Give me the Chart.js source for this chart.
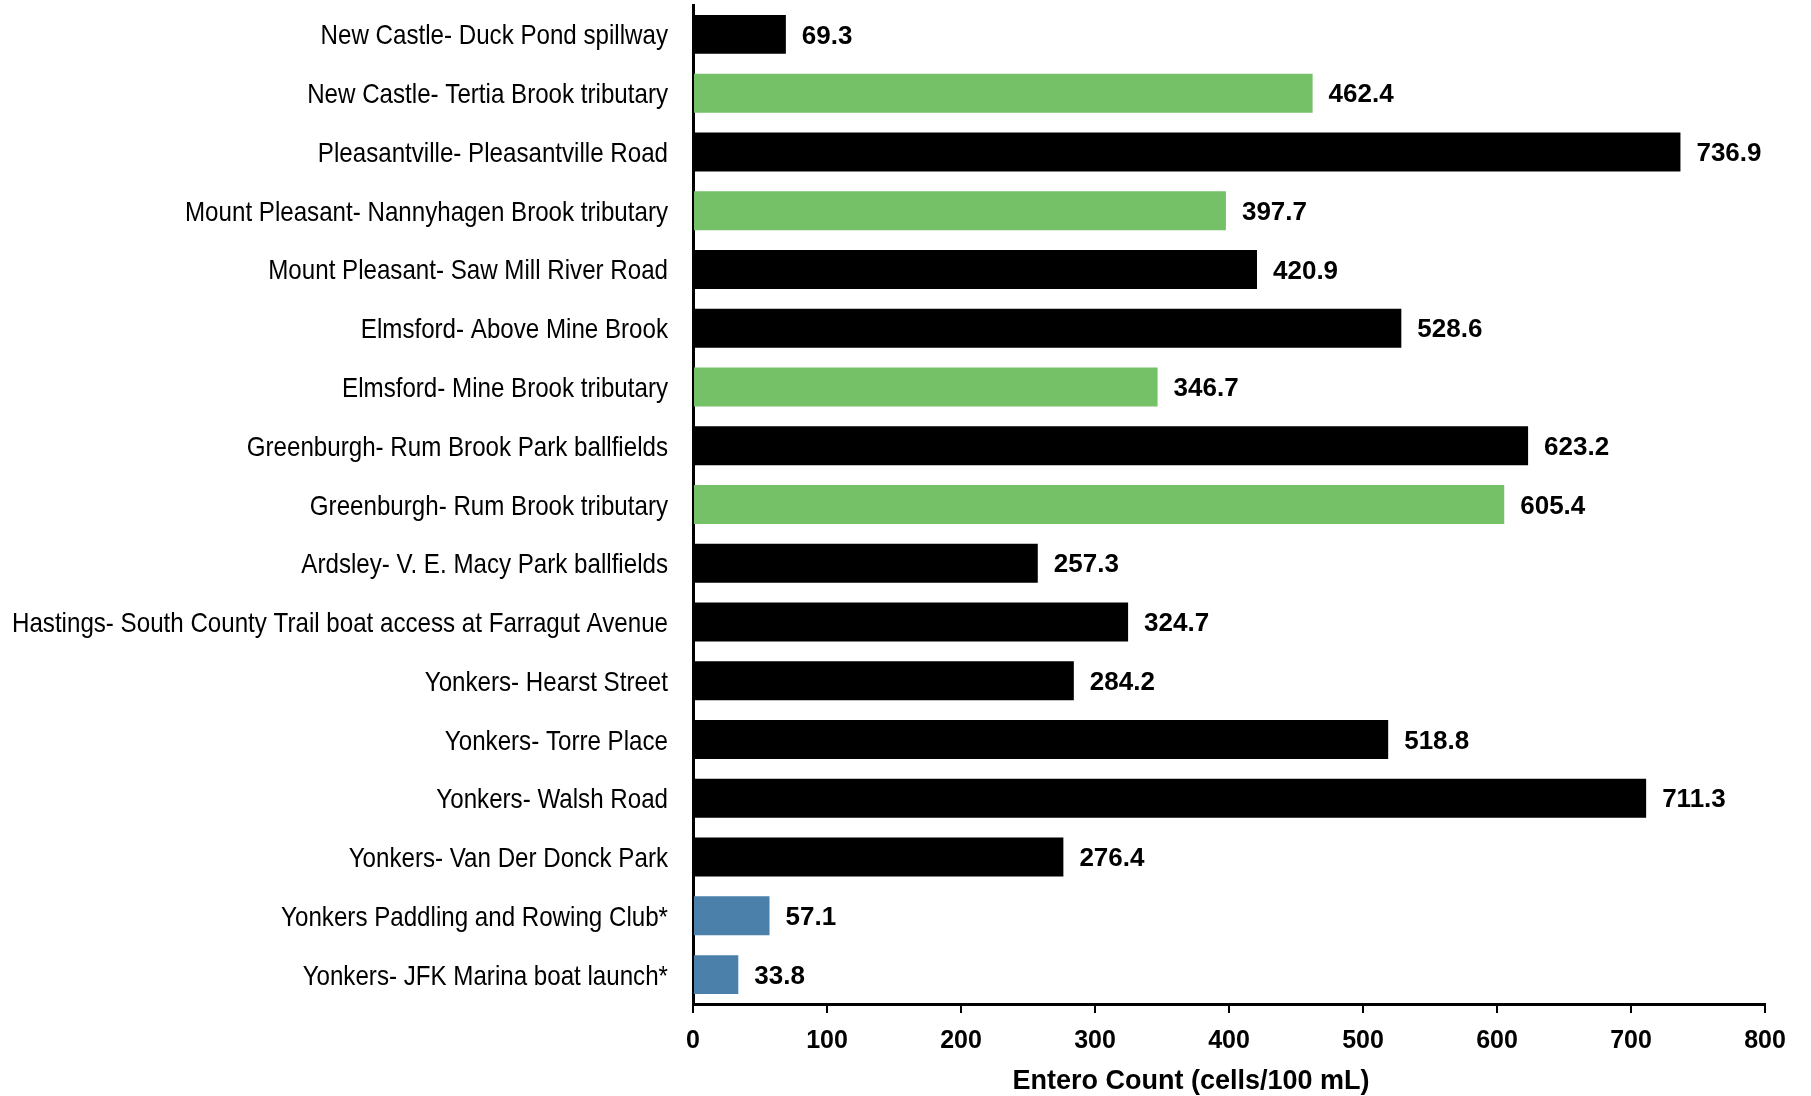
<!DOCTYPE html>
<html>
<head>
<meta charset="utf-8">
<script src="https://cdn.jsdelivr.net/npm/chart.js@4.4.1/dist/chart.umd.min.js"></script>
<style>
  html, body { margin: 0; padding: 0; background: #ffffff; }
  #wrap { width: 1811px; height: 1096px; position: relative; }
</style>
</head>
<body>
<div id="wrap"><canvas id="c"></canvas></div>
<script>
const categories = [
  "New Castle- Duck Pond spillway",
  "New Castle- Tertia Brook tributary",
  "Pleasantville- Pleasantville Road",
  "Mount Pleasant- Nannyhagen Brook tributary",
  "Mount Pleasant- Saw Mill River Road",
  "Elmsford- Above Mine Brook",
  "Elmsford- Mine Brook tributary",
  "Greenburgh- Rum Brook Park ballfields",
  "Greenburgh- Rum Brook tributary",
  "Ardsley- V. E. Macy Park ballfields",
  "Hastings- South County Trail boat access at Farragut Avenue",
  "Yonkers- Hearst Street",
  "Yonkers- Torre Place",
  "Yonkers- Walsh Road",
  "Yonkers- Van Der Donck Park",
  "Yonkers Paddling and Rowing Club*",
  "Yonkers- JFK Marina boat launch*"
];
const enteroCounts = [69.3, 462.4, 736.9, 397.7, 420.9, 528.6, 346.7, 623.2, 605.4, 257.3, 324.7, 284.2, 518.8, 711.3, 276.4, 57.1, 33.8];
const siteGroups = ["site", "tributary", "site", "tributary", "site", "site", "tributary", "site", "tributary", "site", "site", "site", "site", "site", "site", "marina", "marina"];
const xTickValues = [0, 100, 200, 300, 400, 500, 600, 700, 800];
const xAxisTitle = "Entero Count (cells/100 mL)";

const groupColors = { site: "#000000", tributary: "#74C167", marina: "#4A80AA" };
const barColors = siteGroups.map(g => groupColors[g]);

// Condensed category labels (the original uses a narrow typeface)
const categoryLabels = {
  id: "categoryLabels",
  afterDraw(chart) {
    const ctx = chart.ctx;
    const ys = chart.scales.y;
    ctx.save();
    ctx.font = "28px 'Liberation Sans', Arial, sans-serif";
    ctx.fillStyle = "#000";
    ctx.textAlign = "right";
    ctx.textBaseline = "alphabetic";
    categories.forEach((label, i) => {
      const y = ys.getPixelForValue(i);
      ctx.save();
      ctx.translate(668, y + 10);
      ctx.scale(0.862, 1);
      ctx.fillText(label, 0, 0);
      ctx.restore();
    });
    ctx.restore();
  }
};

const valueLabels = {
  id: "valueLabels",
  afterDatasetsDraw(chart) {
    const ctx = chart.ctx;
    const meta = chart.getDatasetMeta(0);
    ctx.save();
    ctx.font = "bold 26px 'Liberation Sans', Arial, sans-serif";
    ctx.fillStyle = "#000";
    ctx.textAlign = "left";
    ctx.textBaseline = "middle";
    meta.data.forEach((bar, i) => {
      ctx.fillText(enteroCounts[i].toFixed(1), bar.x + 16, bar.y + 2);
    });
    ctx.restore();
  }
};

const axisTitle = {
  id: "axisTitle",
  afterDraw(chart) {
    const ctx = chart.ctx;
    const xs = chart.scales.x;
    ctx.save();
    ctx.font = "bold 27px 'Liberation Sans', Arial, sans-serif";
    ctx.fillStyle = "#000";
    ctx.textAlign = "center";
    ctx.textBaseline = "middle";
    ctx.fillText(xAxisTitle, (xs.left + xs.right) / 2 - 38, 1082);
    ctx.restore();
  }
};

new Chart(document.getElementById("c"), {
  type: "bar",
  data: {
    labels: categories,
    datasets: [{
      data: enteroCounts,
      backgroundColor: barColors,
      borderWidth: 0,
      barPercentage: 0.663,
      categoryPercentage: 1.0
    }]
  },
  options: {
    indexAxis: "y",
    responsive: true,
    maintainAspectRatio: false,
    devicePixelRatio: 1,
    animation: false,
    layout: { padding: { top: 5, right: 46, left: 0, bottom: 0 } },
    plugins: { legend: { display: false }, tooltip: { enabled: false } },
    scales: {
      x: {
        type: "linear",
        min: 0,
        max: 800,
        afterBuildTicks(scale) { scale.ticks = xTickValues.map(v => ({ value: v })); },
        afterFit(scale) { scale.height = 92; scale.paddingLeft = 0; scale.paddingRight = 0; },
        grid: { drawOnChartArea: false, drawTicks: true, tickLength: 9, color: "#000", lineWidth: 2 },
        border: { display: true, color: "#000", width: 3 },
        ticks: {
          padding: 13,
          color: "#000",
          font: { family: "'Liberation Sans', Arial, sans-serif", size: 25, weight: "bold" }
        }
      },
      y: {
        afterFit(scale) { scale.width = 693; scale.paddingTop = 0; scale.paddingBottom = 0; },
        grid: { display: false, drawTicks: false },
        border: { display: true, color: "#000", width: 3 },
        ticks: { display: false, autoSkip: false }
      }
    }
  },
  plugins: [valueLabels, categoryLabels, axisTitle]
});
</script>
</body>
</html>
